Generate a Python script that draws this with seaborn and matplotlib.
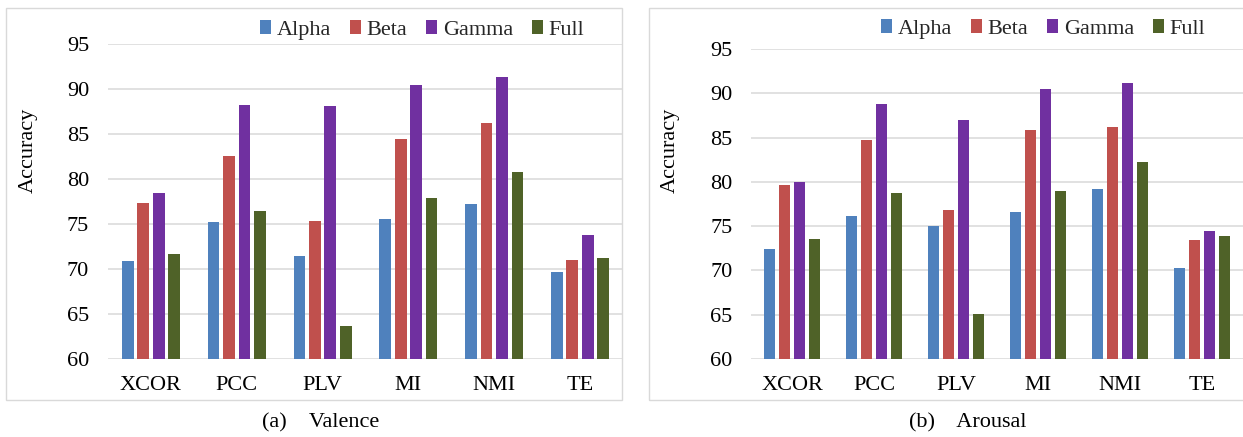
import matplotlib
matplotlib.use("Agg")
import matplotlib.pyplot as plt
from matplotlib.patches import Patch, Rectangle
import seaborn as sns
import pandas as pd

# Connectivity measures and frequency bands
metrics = ["XCOR", "PCC", "PLV", "MI", "NMI", "TE"]
bands = ["Alpha", "Beta", "Gamma", "Full"]
band_colors = ["#4F81BD", "#C0504D", "#7030A0", "#4F6228"]

# Valence accuracy per band (one value per metric)
valence_alpha = [70.9, 75.2, 71.4, 75.6, 77.2, 69.7]
valence_beta = [77.3, 82.6, 75.3, 84.4, 86.2, 71.0]
valence_gamma = [78.5, 88.2, 88.1, 90.4, 91.3, 73.8]
valence_full = [71.7, 76.4, 63.7, 77.9, 80.8, 71.2]

# Arousal accuracy per band (one value per metric)
arousal_alpha = [72.4, 76.2, 75.0, 76.6, 79.2, 70.3]
arousal_beta = [79.6, 84.7, 76.8, 85.9, 86.2, 73.4]
arousal_gamma = [80.0, 88.8, 87.0, 90.5, 91.2, 74.4]
arousal_full = [73.6, 78.7, 65.1, 79.0, 82.2, 73.9]

y_ticks = [60, 65, 70, 75, 80, 85, 90, 95]


def long_table(series):
    rows = []
    for band, vals in zip(bands, series):
        for m, v in zip(metrics, vals):
            rows.append({"metric": m, "band": band, "accuracy": v})
    return pd.DataFrame(rows)


valence = long_table([valence_alpha, valence_beta, valence_gamma, valence_full])
arousal = long_table([arousal_alpha, arousal_beta, arousal_gamma, arousal_full])

sns.set_theme(style="white")
plt.rcParams["font.family"] = ["Liberation Serif", "DejaVu Serif"]
FS = 16
plt.rcParams["font.size"] = FS

W, H = 1243, 437
fig = plt.figure(figsize=(W / 100, H / 100), dpi=100)
fig.patch.set_facecolor("white")


def px_axes(x0, y0, x1, y1):
    return fig.add_axes([x0 / W, 1 - y1 / H, (x1 - x0) / W, (y1 - y0) / H])


panels = [
    dict(data=valence, ax=px_axes(108, 44, 623, 359), box=(6, 8, 622, 400),
         ylab=(28, 150), legend=(422, 30), caption=(321, "(a)    Valence")),
    dict(data=arousal, ax=px_axes(751, 49, 1243, 359), box=(649, 8, 1252, 400),
         ylab=(670, 150), legend=(1043, 29), caption=(968, "(b)    Arousal")),
]

handles = [Patch(facecolor=c, edgecolor="none", label=b) for b, c in zip(bands, band_colors)]

for p in panels:
    ax = p["ax"]
    sns.barplot(data=p["data"], x="metric", y="accuracy", hue="band",
                order=metrics, hue_order=bands, palette=band_colors, saturation=1,
                width=0.72, gap=0.24, linewidth=0, legend=False, ax=ax)
    ax.set_ylim(60, 95)
    ax.set_yticks(y_ticks)
    ax.set_xlabel("")
    ax.set_ylabel("")
    ax.set_axisbelow(True)
    ax.yaxis.grid(True, color="#D9D9D9", linewidth=1.1)
    ax.xaxis.grid(False)
    for s in ax.spines.values():
        s.set_visible(False)
    ax.tick_params(axis="y", length=0, pad=13.5, labelsize=FS, labelcolor="black")
    ax.tick_params(axis="x", length=0, pad=12, labelsize=FS, labelcolor="black")
    ax.set_facecolor("none")

    x0, y0, x1, y1 = p["box"]
    fig.patches.append(Rectangle((x0 / W, 1 - y1 / H), (x1 - x0) / W, (y1 - y0) / H,
                                 transform=fig.transFigure, fill=False,
                                 edgecolor="#D9D9D9", linewidth=1.0, zorder=0))

    lx, ly = p["ylab"]
    fig.text(lx / W, 1 - ly / H, "Accuracy", rotation=90, ha="center", va="center",
             fontsize=FS, color="black")

    gx, gy = p["legend"]
    ax.legend(handles=handles, loc="center", bbox_to_anchor=(gx / W, 1 - gy / H),
              bbox_transform=fig.transFigure, ncol=4, frameon=False, fontsize=FS,
              handlelength=0.5, handleheight=0.55, handletextpad=0.25,
              columnspacing=0.85, borderaxespad=0, borderpad=0)

    cx, text = p["caption"]
    fig.text(cx / W, 1 - 423 / H, text, ha="center", va="center", fontsize=FS,
             color="black")

fig.savefig("out.png", dpi=100, facecolor="white")
